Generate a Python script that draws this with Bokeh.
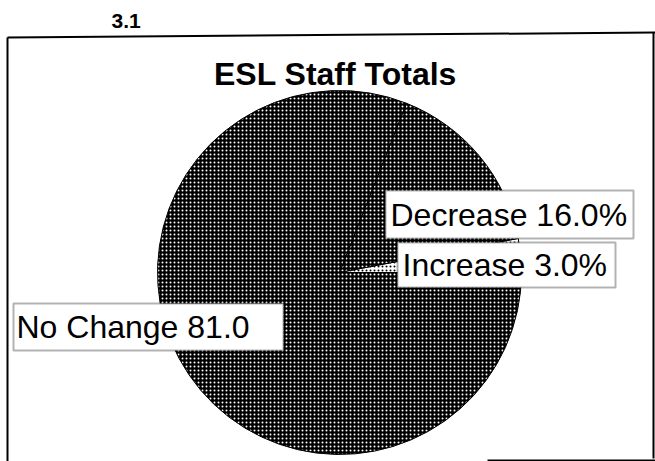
import numpy as np
from bokeh.plotting import figure
from bokeh.models import ColumnDataSource, Label, BoxAnnotation
from bokeh.embed import file_html
from bokeh.resources import INLINE

# ---- data ----
categories = ["Increase", "Decrease", "No Change"]
values = [3.0, 16.0, 81.0]
label_texts = ["Increase 3.0%", "Decrease 16.0%", "No Change 81.0"]
title_text = "ESL Staff Totals"
page_no = "3.1"

# ---- styles ----
fills = ["#ffffff", "#000000", "#000000"]
hatch_colors = ["#000000", "#ffffff", "#ffffff"]
hatch_weights = [1.0, 1.05, 0.9]

W, H = 655, 461
FONT = "Liberation Sans"

p = figure(width=W, height=H, x_range=(0, W), y_range=(0, H),
           output_backend="svg", toolbar_location=None, min_border=0)
p.axis.visible = False
p.grid.visible = False
p.outline_line_color = None
p.background_fill_color = "white"
p.border_fill_color = "white"

# pie
fr = np.array(values) / np.sum(values)
ends = np.cumsum(fr) * 2 * np.pi
starts = np.concatenate([[0.0], ends[:-1]])
src = ColumnDataSource(dict(cat=categories, val=values, start=starts, end=ends,
                            fill=fills, hc=hatch_colors, hw=hatch_weights))
cx, cy, r = 339, 189, 182
p.wedge(x=cx, y=cy, radius=r, start_angle="start", end_angle="end", source=src,
        fill_color="fill", line_color="black", line_width=1,
        hatch_pattern="dot", hatch_color="hc", hatch_scale=4, hatch_weight="hw")

# frame lines
p.multi_line(xs=[[7, 655], [7, 7], [653, 653], [487, 655]],
             ys=[[424, 429], [424, 0], [429, 3], [1, 1]],
             line_color="black", line_width=2)

# title and page number
p.add_layout(Label(x=335, y=388, text=title_text, text_font=FONT,
                   text_font_style="bold", text_font_size="32px", text_align="center",
                   text_baseline="middle", text_color="black"))
p.add_layout(Label(x=111, y=441, text=page_no, text_font=FONT,
                   text_font_style="bold", text_font_size="21px", text_align="left",
                   text_baseline="middle", text_color="black"))

# label boxes (left, right, bottom, top) and text anchors
boxes = {"Decrease": (385, 633, 223, 271),
         "Increase": (397, 615, 174, 219),
         "No Change": (13, 283, 111, 158)}
text_pos = {"Decrease": (390, 247), "Increase": (402, 196.5), "No Change": (16, 134.5)}
for cat, txt in zip(categories, label_texts):
    l, rr, b, t = boxes[cat]
    p.add_layout(BoxAnnotation(left=l, right=rr, bottom=b, top=t,
                               fill_color="white", fill_alpha=1.0,
                               line_color="black", line_width=2))
    tx, ty = text_pos[cat]
    p.add_layout(Label(x=tx, y=ty, text=txt, text_font=FONT, text_font_size="32px",
                       text_align="left", text_baseline="middle", text_color="black"))

open("out.html", "w").write(file_html(p, INLINE))
